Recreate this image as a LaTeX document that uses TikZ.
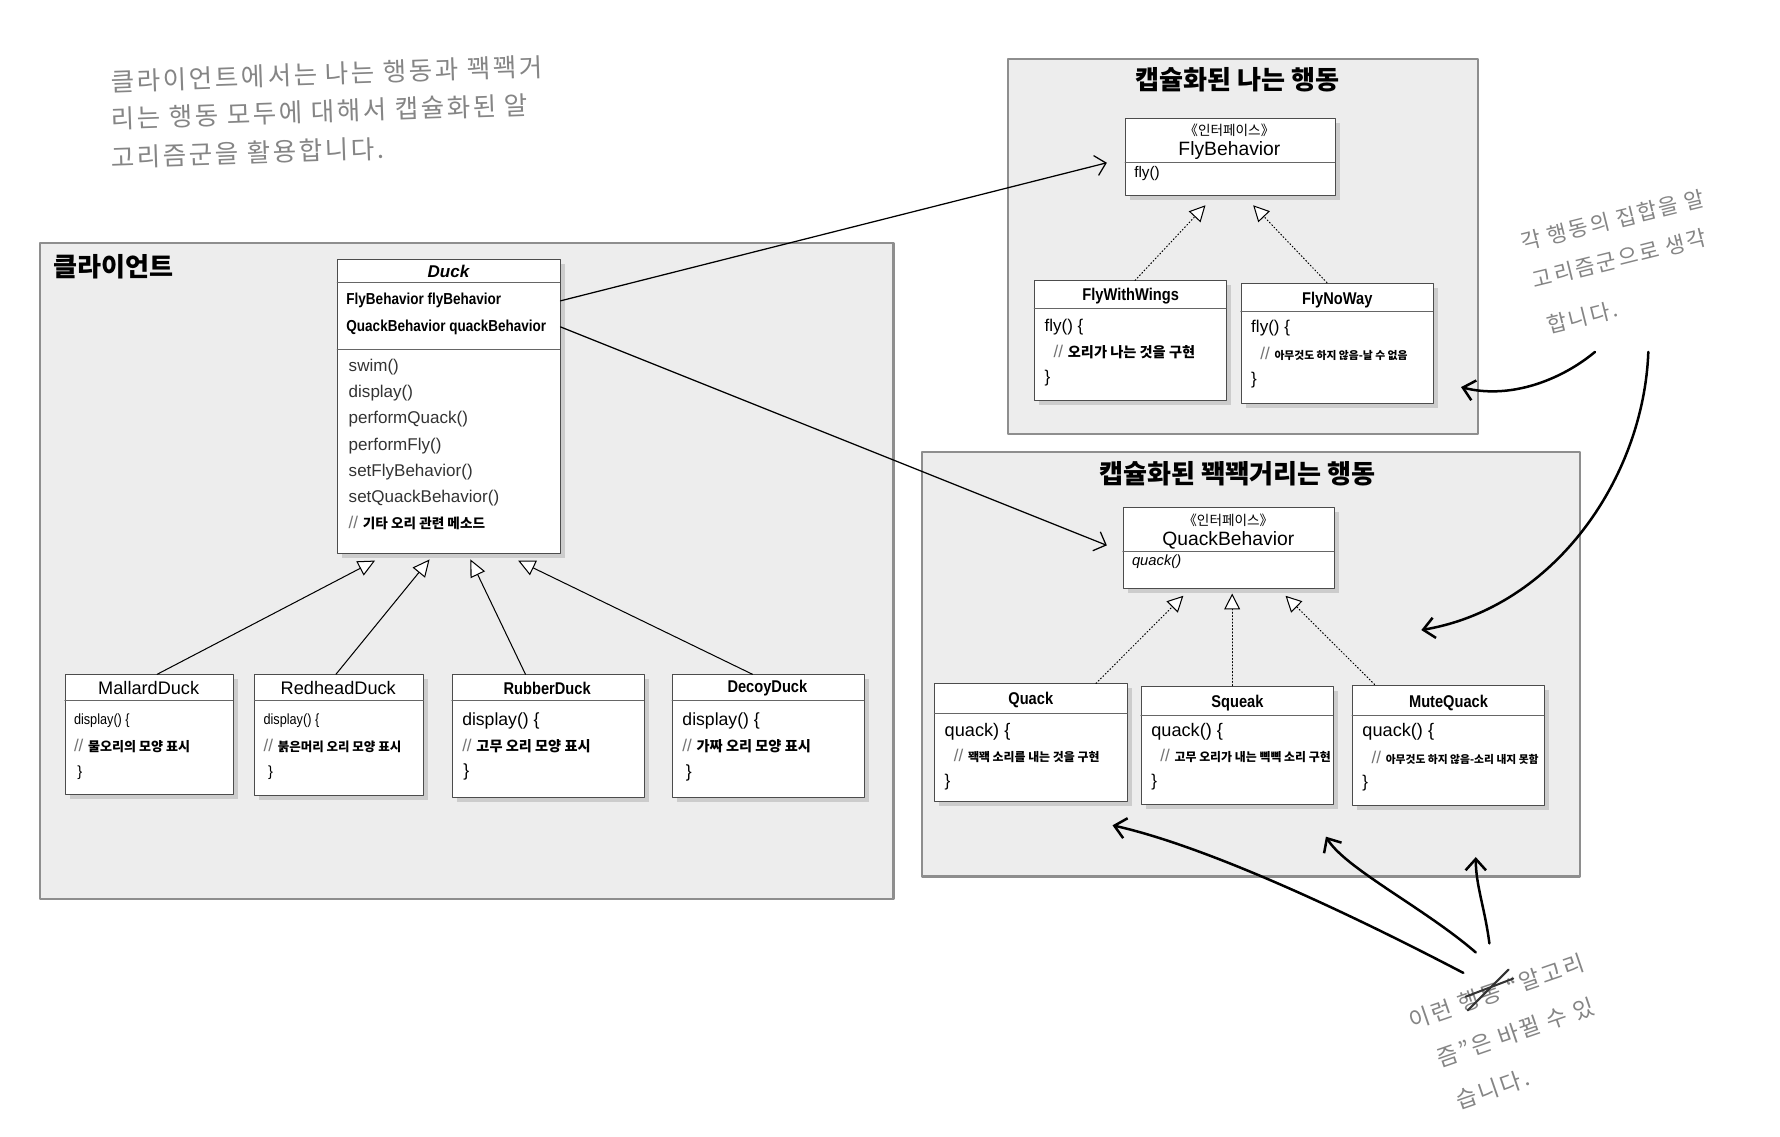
\documentclass[tikz,border=0pt]{standalone}
\usepackage{fontspec}
\usepackage{graphicx}
\setmainfont{Liberation Sans}
\newfontfamily\kr{Noto Sans CJK KR}
\newfontfamily\handfont{Noto Sans CJK KR}[LetterSpace=10]
\usetikzlibrary{arrows.meta,shadows,positioning}

\definecolor{panelgray}{HTML}{EDEDED}
\definecolor{frame}{HTML}{8E8E8E}
\definecolor{pencil}{HTML}{858585}

\newcommand\fsz[1]{\fontsize{#1}{#1}\selectfont}
\newcommand\cond[1]{\scalebox{0.86}[1]{#1}}
\newcommand\cmt[2]{{\color{black!55}//}\ {\kr\bfseries\fsz{#1}#2}}

\begin{document}
\begin{tikzpicture}[x=1pt,y=-1pt, line join=round, line cap=round,
  panel/.style={draw=frame, line width=2pt, fill=panelgray},
  umlbox/.style={draw=black!70, fill=white, line width=0.8pt, anchor=north west, inner sep=0pt,
    drop shadow={shadow xshift=4pt, shadow yshift=-4pt, opacity=.3}},
  sep/.style={draw=black!60, line width=0.7pt},
  member/.style={anchor=west, inner sep=0pt, font=\fsz{15}},
  attr/.style={anchor=west, inner sep=0pt, font=\fsz{14}\bfseries},
  cname/.style={inner sep=0pt, font=\fsz{16}},
  bname/.style={inner sep=0pt, font=\fsz{15}\bfseries},
  paneltitle/.style={inner sep=0pt, font=\kr\bfseries\fsz{23}},
  hand/.style={anchor=west, inner sep=0pt, text=pencil, font=\handfont\fsz{22.5}},
  assoc/.style={line width=1.1pt, -{Straight Barb[length=9pt,width=18pt]}},
  realize/.style={dotted, line width=0.9pt, -{Triangle[length=14pt,width=14pt,fill=white]}},
  generalize/.style={line width=0.9pt, -{Triangle[length=15pt,width=14pt,fill=white]}},
  handarrow/.style={line width=2.2pt, -{Straight Barb[length=10pt,width=18pt]}}]

\fill[white] (0,0) rectangle (1568,1001);
\useasboundingbox (0,0) rectangle (1568,1001);

% handwritten note, top left
\node[hand, rotate=2] (noteA) at (98,72) {클라이언트에서는 나는 행동과 꽥꽥거};
\node[hand, rotate=2] (noteB) at (98,105) {리는 행동 모두에 대해서 캡슐화된 알};
\node[hand, rotate=2] (noteC) at (98,139) {고리즘군을 활용합니다.};

% client panel
\draw[panel] (35,214) rectangle (787,792);
\node[anchor=west, inner sep=0pt, font=\kr\bfseries\fsz{23}] (client) at (47,235) {클라이언트};

% Duck
\node[umlbox, minimum width=196pt, minimum height=259pt] (duck) at (297,228) {};
\draw[sep] (297,249) -- (493,249);
\draw[sep] (297,308) -- (493,308);
\node[inner sep=0pt, font=\fsz{15}\bfseries\itshape] (duckname) at (395,239) {Duck};
\node[attr] (attrfly) at (305,265) {\scalebox{0.85}[1]{FlyBehavior flyBehavior}};
\node[attr] (attrquack) at (305,288) {\scalebox{0.85}[1]{QuackBehavior quackBehavior}};
\foreach \t [count=\i] in {swim(),display(),performQuack(),performFly(),setFlyBehavior(),setQuackBehavior()}
  \node[member, text=black!80] (m\i) at (307,{300+23.2*\i}) {\t};
\node[member] (m7) at (307,461) {\cmt{12}{기타 오리 관련 메소드}};

% subclasses of Duck
\node[umlbox, minimum width=148pt, minimum height=105pt] (mallard) at (57,594) {};
\draw[sep] (57,617) -- (205,617);
\node[cname] (mallardname) at (131,606) {MallardDuck};
\node[member, font=\fsz{13}] (mallard1) at (65,635) {\cond{display() \{}};
\node[member] (mallard2) at (65,657) {\cmt{11.5}{물오리의 모양 표시}};
\node[member, font=\fsz{13}] (mallard3) at (68,681) {\}};

\node[umlbox, minimum width=149pt, minimum height=106pt] (redhead) at (224,594) {};
\draw[sep] (224,617) -- (373,617);
\node[cname] (redheadname) at (298,606) {RedheadDuck};
\node[member, font=\fsz{13}] (redhead1) at (232,635) {\cond{display() \{}};
\node[member] (redhead2) at (232,657) {\cmt{11}{붉은머리 오리 모양 표시}};
\node[member, font=\fsz{13}] (redhead3) at (236,681) {\}};

\node[umlbox, minimum width=169pt, minimum height=108pt] (rubber) at (398,594) {};
\draw[sep] (398,617) -- (567,617);
\node[bname] (rubbername) at (482,606) {\cond{RubberDuck}};
\node[member, font=\fsz{15.5}] (rubber1) at (407,635) {display() \{};
\node[member] (rubber2) at (407,657) {\cmt{12.5}{고무 오리 모양 표시}};
\node[member, font=\fsz{15.5}] (rubber3) at (408,680) {\}};

\node[umlbox, minimum width=169pt, minimum height=108pt] (decoy) at (592,594) {};
\draw[sep] (592,617) -- (761,617);
\node[bname] (decoyname) at (676,606) {\cond{DecoyDuck}};
\node[member, font=\fsz{15.5}] (decoy1) at (601,635) {display() \{};
\node[member] (decoy2) at (601,657) {\cmt{12.5}{가짜 오리 모양 표시}};
\node[member, font=\fsz{15.5}] (decoy3) at (604,681) {\}};

\draw[generalize] ([xshift=7pt]mallard.north) -- ([xshift=-65pt,yshift=-6pt]duck.south);
\draw[generalize] ([xshift=-3pt]redhead.north) -- ([xshift=-17pt,yshift=-5pt]duck.south);
\draw[generalize] ([xshift=-20pt]rubber.north) -- ([xshift=19pt,yshift=-5pt]duck.south);
\draw[generalize] ([xshift=-14pt]decoy.north) -- ([xshift=61pt,yshift=-6pt]duck.south);

% fly behaviours
\draw[panel] (888,52) rectangle (1302,382);
\node[paneltitle] (flytitle) at (1090,70) {캡슐화된 나는 행동};
\node[umlbox, minimum width=185pt, minimum height=68pt] (flyi) at (991,104) {};
\draw[sep] (991,143) -- (1176,143);
\node[inner sep=0pt, font=\kr\fsz{12}] (flyster) at (1083,115) {《인터페이스》};
\node[inner sep=0pt, font=\fsz{17}] (flyiname) at (1083,133) {FlyBehavior};
\node[member, font=\fsz{13.5}] (flyop) at (999,153) {fly()};

\node[umlbox, minimum width=169pt, minimum height=105pt] (fww) at (911,247) {};
\draw[sep] (911,272) -- (1080,272);
\node[bname] (fwwname) at (996,261) {\cond{FlyWithWings}};
\node[member] (fww1) at (920,288) {fly() \{};
\node[member] (fww2) at (928,310) {\cmt{12.5}{오리가 나는 것을 구현}};
\node[member] (fww3) at (920,333) {\}};

\node[umlbox, minimum width=169pt, minimum height=106pt] (fnw) at (1093,249) {};
\draw[sep] (1093,274) -- (1262,274);
\node[bname] (fnwname) at (1178,264) {\cond{FlyNoWay}};
\node[member] (fnw1) at (1102,289) {fly() \{};
\node[member] (fnw2) at (1110,312) {\cmt{9.5}{아무것도 하지 않음-날 수 없음}};
\node[member] (fnw3) at (1102,335) {\}};

\draw[realize] ([xshift=4pt]fww.north) -- ([xshift=-22pt,yshift=-8pt]flyi.south);
\draw[realize] ([xshift=-9pt]fnw.north) -- ([xshift=20pt,yshift=-8pt]flyi.south);

% quack behaviours
\draw[panel] (812,398) rectangle (1392,772);
\node[paneltitle] (quacktitle) at (1090,417) {캡슐화된 꽥꽥거리는 행동};
\node[umlbox, minimum width=186pt, minimum height=71pt] (quacki) at (989,447) {};
\draw[sep] (989,486) -- (1175,486);
\node[inner sep=0pt, font=\kr\fsz{12}] (quackster) at (1082,458) {《인터페이스》};
\node[inner sep=0pt, font=\fsz{17}] (quackiname) at (1082,476) {QuackBehavior};
\node[member, font=\fsz{13}\itshape] (quackop) at (997,495) {quack()};

\node[umlbox, minimum width=170pt, minimum height=104pt] (quack) at (823,602) {};
\draw[sep] (823,628) -- (993,628);
\node[bname] (quackname) at (908,617) {\cond{Quack}};
\node[member, font=\fsz{16}] (quack1) at (832,645) {quack) \{};
\node[member] (quack2) at (840,666) {\cmt{10.5}{꽥꽥 소리를 내는 것을 구현}};
\node[member] (quack3) at (832,689) {\}};

\node[umlbox, minimum width=169pt, minimum height=104pt] (squeak) at (1005,604) {};
\draw[sep] (1005,630) -- (1174,630);
\node[bname] (squeakname) at (1090,619) {\cond{Squeak}};
\node[member, font=\fsz{16}] (squeak1) at (1014,645) {quack() \{};
\node[member] (squeak2) at (1022,666) {\cmt{10.5}{고무 오리가 내는 삑삑 소리 구현}};
\node[member] (squeak3) at (1014,689) {\}};

\node[umlbox, minimum width=169pt, minimum height=106pt] (mute) at (1191,603) {};
\draw[sep] (1191,630) -- (1360,630);
\node[bname] (mutename) at (1276,619) {\cond{MuteQuack}};
\node[member, font=\fsz{16}] (mute1) at (1200,645) {quack() \{};
\node[member] (mute2) at (1208,668) {\cmt{9.5}{아무것도 하지 않음-소리 내지 못함}};
\node[member] (mute3) at (1200,690) {\}};

\draw[realize] ([xshift=57pt]quack.north) -- ([xshift=-40pt,yshift=-6pt]quacki.south);
\draw[realize] ([xshift=-4.5pt]squeak.north) -- ([xshift=3pt,yshift=-4pt]quacki.south);
\draw[realize] ([xshift=-65pt]mute.north) -- ([xshift=50pt,yshift=-6pt]quacki.south);

% has-a
\draw[assoc] (duck.east |- attrfly) -- ([xshift=-16pt,yshift=-5pt]flyi.west);
\draw[assoc] (duck.east |- attrquack) -- ([xshift=-14pt,yshift=2.5pt]quacki.west);

% handwritten note, right
\node[hand, rotate=14, font=\handfont\fsz{19}] (noteD) at (1340,214) {각 행동의 집합을 알};
\node[hand, rotate=14, font=\handfont\fsz{19}] (noteE) at (1350,247) {고리즘군으로 생각};
\node[hand, rotate=14, font=\handfont\fsz{19}] (noteF) at (1363,287) {합니다.};
\coordinate (r1s) at (1405,310); \coordinate (r1e) at (1287,341);
\coordinate (r2s) at (1452,310); \coordinate (r2e) at (1252,555);
\draw[handarrow] (r1s) .. controls (1375,335) and (1330,352) .. (r1e);
\draw[handarrow] (r2s) .. controls (1448,420) and (1370,535) .. (r2e);

% handwritten note, bottom
\node[hand, rotate=19, font=\handfont\fsz{20}] (noteG) at (1242,900) {이런 행동 “알고리};
\node[hand, rotate=19, font=\handfont\fsz{20}] (noteH) at (1266,933) {즘”은 바뀔 수 있};
\node[hand, rotate=19, font=\handfont\fsz{20}] (noteI) at (1283,970) {습니다.};
\draw[line width=1.8pt, black!80] (1291,878) -- (1333,862);
\draw[line width=1.8pt, black!80] (1293,890) -- (1329,854);
\coordinate (b1s) at (1289,857); \coordinate (b1e) at (980,727);
\coordinate (b2s) at (1300,839); \coordinate (b2e) at (1168,737);
\coordinate (b3s) at (1312,831); \coordinate (b3e) at (1300,755);
\draw[handarrow] (b1s) .. controls (1180,800) and (1060,745) .. (b1e);
\draw[handarrow] (b2s) .. controls (1255,800) and (1185,765) .. (b2e);
\draw[handarrow] (b3s) .. controls (1308,800) and (1300,780) .. (b3e);
\end{tikzpicture}
\end{document}
